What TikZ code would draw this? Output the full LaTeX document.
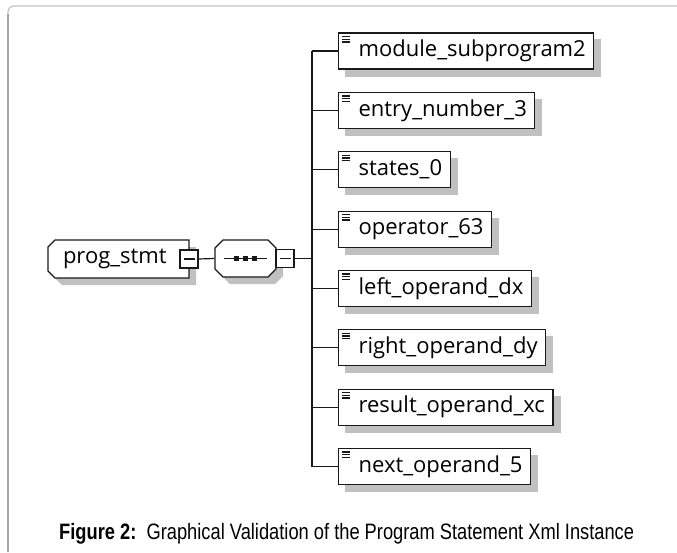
\documentclass[tikz,border=0pt]{standalone}
\usepackage{fontspec}
\setmainfont{Open Sans}
\newfontfamily\capfont[FakeStretch=0.82]{Liberation Sans}
\usetikzlibrary{calc}
\pgfdeclarelayer{bg}
\pgfsetlayers{bg,main}
\definecolor{shadowgray}{RGB}{192,192,192}
\definecolor{framegray}{RGB}{195,195,195}
\definecolor{framedark}{RGB}{165,165,165}
\definecolor{linecol}{RGB}{25,25,25}
\begin{document}
\begin{tikzpicture}[x=1pt,y=-1pt,line width=1.2pt,
  elem/.style={draw=linecol,fill=white,anchor=west,minimum height=36pt,
    inner xsep=8pt,inner ysep=0pt,font=\fontsize{22}{24}\selectfont,
    path picture={
      \foreach \d in {3.5,6.2,8.9}
        \draw[line width=1.3pt] ([xshift=3pt,yshift=-\d pt]path picture bounding box.north west) -- ++(8.5pt,0pt);
    }},
  minusbox/.style={draw=linecol,fill=white,minimum size=18pt,inner sep=0pt,
    path picture={
      \draw[line width=1.1pt] ([xshift=3.5pt]path picture bounding box.west) -- ([xshift=-3.5pt]path picture bounding box.east);
    }},
  holder/.style={draw=none,inner sep=0pt},
  conn/.style={draw=linecol,line width=1.2pt},
  shade/.style={fill=shadowgray,draw=none}
]
\useasboundingbox (0,0) rectangle (677,552);

% outer frame: light top edge, slightly darker left edge
\draw[framegray,line width=1.3pt,rounded corners=6pt] (8,552) -- (8,6) -- (677,6);
\draw[framedark,line width=1.3pt] (8,552) -- (8,14);

% root element with chamfered left corners
\node[holder,minimum width=141pt,minimum height=38pt] (root) at (118.5,259) {};
\fill[shade,shift={(7,7)}] (55,240) -- (189,240) -- (189,278) -- (55,278) -- (48,271) -- (48,247) -- cycle;
\draw[draw=linecol,fill=white] (55,240) -- (189,240) -- (189,278) -- (55,278) -- (48,271) -- (48,247) -- cycle;
\node[anchor=west,inner sep=0pt,font=\fontsize{22}{24}\selectfont] (rootlabel) at ($(root.west)+(15,0)$) {prog\_stmt};
\node[minusbox] (rminus) at (189,259) {};

% sequence compositor
\node[holder,minimum width=61pt,minimum height=37pt] (seq) at (245.5,258.5) {};
\fill[shade,shift={(7,7)}] (223,240) -- (268,240) -- (276,248) -- (276,269) -- (268,277) -- (223,277) -- (215,269) -- (215,248) -- cycle;
\draw[draw=linecol,fill=white] (223,240) -- (268,240) -- (276,248) -- (276,269) -- (268,277) -- (223,277) -- (215,269) -- (215,248) -- cycle;
\draw[linecol,line width=1.2pt] (224,258.5) -- (267,258.5);
\foreach \sx in {236.5,245.5,254.5}
  \fill[linecol] (\sx-2.8,255.7) rectangle (\sx+2.8,261.3);
\node[minusbox] (sminus) at (285,258.5) {};

\draw[conn] (rminus.east) -- (seq.west);

% child elements
\node[elem] (e1) at (338,51)    {\hspace*{12pt}module\_subprogram2};
\node[elem] (e2) at (338,110.4) {\hspace*{12pt}entry\_number\_3};
\node[elem] (e3) at (338,169.7) {\hspace*{12pt}states\_0};
\node[elem] (e4) at (338,229.1) {\hspace*{12pt}operator\_63};
\node[elem] (e5) at (338,288.4) {\hspace*{12pt}left\_operand\_dx};
\node[elem] (e6) at (338,347.8) {\hspace*{12pt}right\_operand\_dy};
\node[elem] (e7) at (338,407.2) {\hspace*{12pt}result\_operand\_xc};
\node[elem] (e8) at (338,466.5) {\hspace*{12pt}next\_operand\_5};

\begin{pgfonlayer}{bg}
  \foreach \n in {e1,e2,e3,e4,e5,e6,e7,e8}
    \fill[shade] ([shift={(7,7)}]\n.north west) rectangle ([shift={(7,7)}]\n.south east);
\end{pgfonlayer}

% connectors
\coordinate (trunk) at (312,258.5);
\draw[conn] (sminus.east) -- (trunk);
\draw[conn] (trunk |- e1.west) -- (trunk |- e8.west);
\foreach \n in {e1,e2,e3,e4,e5,e6,e7,e8}
  \draw[conn] (trunk |- \n.west) -- (\n.west);

% caption
\node[anchor=base west,inner sep=0pt,font=\capfont\fontsize{22.3}{26}\selectfont] (cap) at (59,539)
  {\textbf{Figure 2:}\ \ Graphical Validation of the Program Statement Xml Instance};
\end{tikzpicture}
\end{document}
